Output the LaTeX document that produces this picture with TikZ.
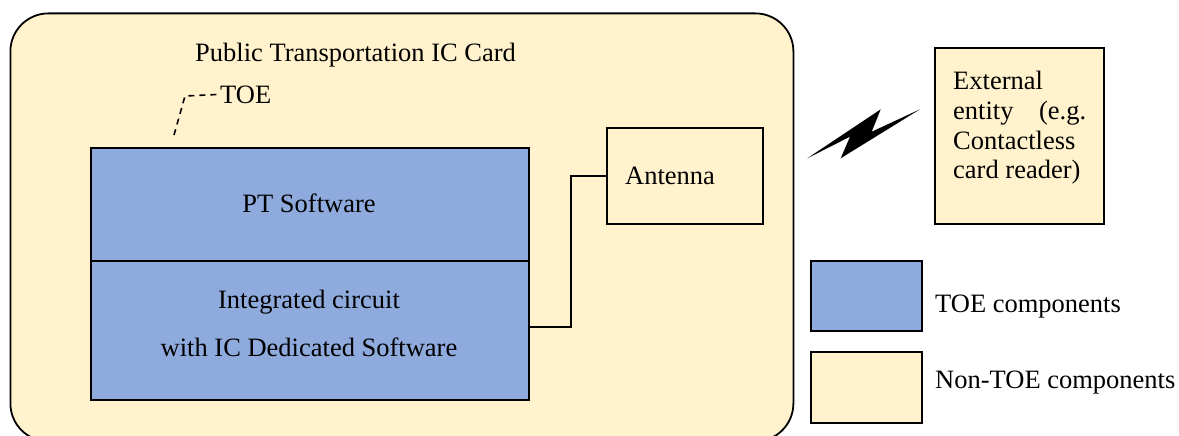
\documentclass[tikz,border=0pt]{standalone}
\usepackage{fontspec}
\setmainfont{LiberationSerif}[Extension=.ttf, UprightFont=*-Regular, BoldFont=*-Bold]
\definecolor{toeblue}{RGB}{143,170,220}
\definecolor{cream}{RGB}{255,242,204}
\tikzset{
  txt/.style={font=\rmfamily\fontsize{26.5}{29.5}\selectfont, inner sep=0pt},
  cardbox/.style={draw=black, line width=1.8pt, fill=cream, rounded corners=38pt, inner sep=0pt},
  toebox/.style={draw=black, line width=2.2pt, fill=toeblue, inner sep=0pt},
  nontoebox/.style={draw=black, line width=2pt, fill=cream, inner sep=0pt},
  wire/.style={draw=black, line width=1.6pt},
  leader/.style={draw=black, line width=1.6pt, dash pattern=on 6pt off 5pt},
}
\begin{document}
\begin{tikzpicture}[x=1pt,y=-1pt]
\useasboundingbox (0,0) rectangle (1179,436);
\clip (0,0) rectangle (1179,436);
\fill[white] (0,0) rectangle (1179,436);
% card
\node[cardbox, anchor=north west, minimum width=783pt, minimum height=428pt] (card) at (9.5,12.5) {};
\node[txt, anchor=base west] (title) at (195,62) {Public Transportation IC Card};
% TOE boxes
\node[toebox, anchor=north west, minimum width=438pt, minimum height=113pt] (pts) at (90,147) {};
\node[toebox, anchor=north west, minimum width=438pt, minimum height=139pt] (ic) at (90,260) {};
\node[txt, anchor=base] (ptstxt) at (309,212) {PT Software};
\node[txt, anchor=base] (ictxt1) at (309,308) {Integrated circuit};
\node[txt, anchor=base] (ictxt2) at (309,356) {with IC Dedicated Software};
% TOE label
\node[txt, anchor=base west] (toe) at (220,103) {TOE};
\coordinate (toetip) at (174,135);
\draw[leader] (toetip) -- (185,96) -- (toe.west);
% antenna
\node[nontoebox, anchor=north west, minimum width=156pt, minimum height=96pt] (ant) at (606,127) {};
\node[txt, anchor=base west] (anttxt) at (625,184) {Antenna};
\draw[wire] (ant.west) -- ++(-35,0) |- (ic.east |- 0,327);
% lightning
\fill[black] (807.3,158.3) -- (880.7,109.3) -- (871.7,131.7) -- (920,109.3) -- (840.7,158.3) -- (850,136.7) -- cycle;
% external entity
\node[nontoebox, anchor=north west, minimum width=169pt, minimum height=176pt] (ext) at (934,47) {};
\node[txt, anchor=base west] (ext1) at (953,90) {External};
\node[txt, anchor=base west] (ext2) at (953,119.5) {\hbox to 133pt{entity\hfill(e.g.}};
\node[txt, anchor=base west] (ext3) at (953,149) {Contactless};
\node[txt, anchor=base west] (ext4) at (953,178.5) {card reader)};
% legend
\node[toebox, line width=2pt, anchor=north west, minimum width=111pt, minimum height=70pt] (legtoe) at (810,260) {};
\node[txt, anchor=base west] (legtoetxt) at (935,312) {TOE components};
\node[nontoebox, anchor=north west, minimum width=111pt, minimum height=71pt] (legnon) at (810,351) {};
\node[txt, anchor=base west] (legnontxt) at (935,388) {Non-TOE components};
\end{tikzpicture}
\end{document}
